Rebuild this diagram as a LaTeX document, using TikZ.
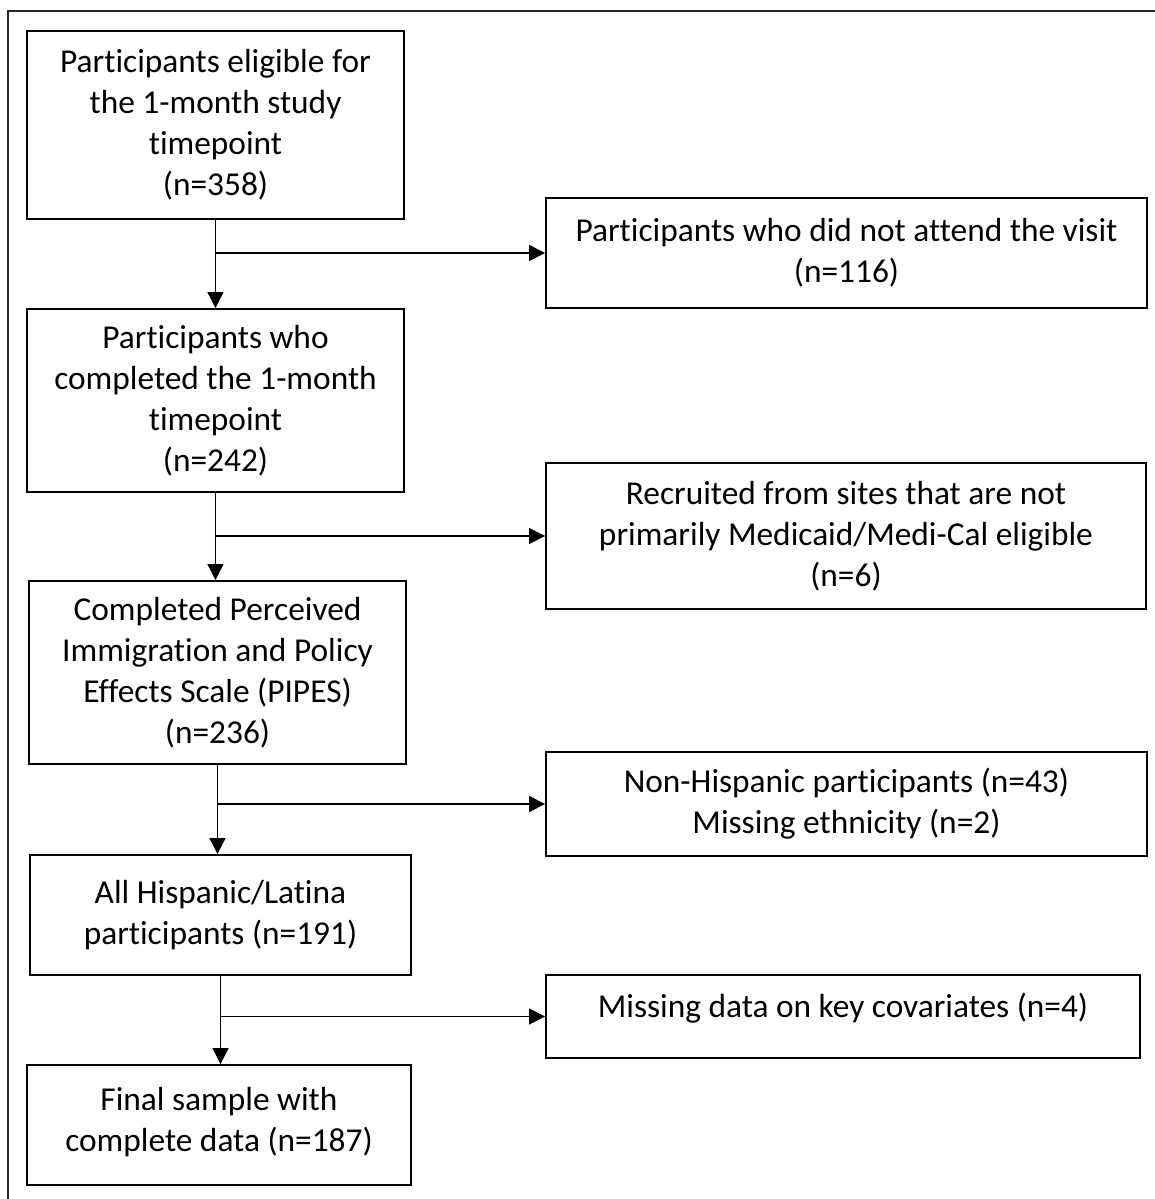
\documentclass[tikz,border=0pt]{standalone}
\usepackage{fontspec}
\setmainfont{Carlito}[Ligatures=NoCommon]
\usetikzlibrary{arrows.meta,positioning,calc}
\tikzset{
  flowbox/.style={draw, line width=1.1pt, align=center, inner sep=2pt,
    font=\fontsize{19}{23.3}\selectfont},
  link/.style={line width=0.6pt, -{Triangle[length=0.32cm, width=0.32cm]}}
}

\begin{document}
\begin{tikzpicture}[x=0.02cm, y=-0.02cm]
  \useasboundingbox (0,0) rectangle (1155,1199);
  % frame round the figure
  \draw[line width=0.6pt, black!85] (8,1199) -- (8,11) -- (1155,11);
  % main column
  \node[flowbox, minimum width=7.54cm, minimum height=3.76cm] (eligible) at (215.5,125)
    {Participants eligible for\\the 1-month study\\timepoint\\(n=358)};
  \node[flowbox, minimum width=7.54cm, minimum height=3.66cm] (completed) at (215.5,400.5)
    {Participants who\\completed the 1-month\\timepoint\\(n=242)};
  \node[flowbox, minimum width=7.54cm, minimum height=3.66cm] (pipes) at (217.5,672.5)
    {Completed Perceived\\Immigration and Policy\\Effects Scale (PIPES)\\(n=236)};
  \node[flowbox, minimum width=7.62cm, minimum height=2.4cm] (latina) at (220.5,915)
    {All Hispanic/Latina\\participants (n=191)};
  \node[flowbox, minimum width=7.68cm, minimum height=2.4cm, text depth=0.22cm] (final) at (219,1125)
    {Final sample with\\complete data (n=187)};
  % exclusions
  \node[flowbox, minimum width=12.02cm, minimum height=2.2cm] (novisit) at (846.5,253)
    {Participants who did not attend the visit\\(n=116)};
  \node[flowbox, minimum width=12.0cm, minimum height=2.92cm] (sites) at (846,536)
    {Recruited from sites that are not\\primarily Medicaid/Medi-Cal eligible\\(n=6)};
  \node[flowbox, minimum width=12.02cm, minimum height=2.08cm] (nonhisp) at (846.5,804)
    {Non-Hispanic participants (n=43)\\Missing ethnicity (n=2)};
  \node[flowbox, minimum width=11.88cm, minimum height=1.66cm, text depth=0.46cm] (covars) at (843,1016.5)
    {Missing data on key covariates (n=4)};
  % arrows down
  \draw[link] (eligible.south) -- (eligible.south |- completed.north);
  \draw[link] (completed.south) -- (completed.south |- pipes.north);
  \draw[link] (pipes.south) -- (pipes.south |- latina.north);
  \draw[link] (latina.south) -- (latina.south |- final.north);
  % arrows to the side
  \draw[link] (eligible.south |- novisit.west) -- (novisit.west);
  \draw[link] (completed.south |- sites.west) -- (sites.west);
  \draw[link] (pipes.south |- nonhisp.west) -- (nonhisp.west);
  \draw[link] (latina.south |- covars.west) -- (covars.west);
\end{tikzpicture}
\end{document}
